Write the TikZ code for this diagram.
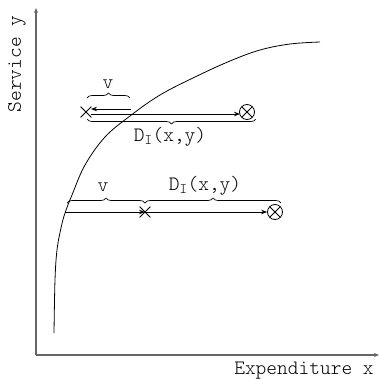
\documentclass[tikz,border=0pt]{standalone}
\usepackage{fontspec}
\setmonofont{Latin Modern Mono Light}
\usetikzlibrary{arrows.meta,decorations.pathreplacing,shapes.misc}
\begin{document}
\begin{tikzpicture}[x=1bp,y=-1bp,
  axis/.style={draw=black!60,line width=1.1bp,-{Stealth[length=5bp,width=4bp]}},
  arr/.style={draw=black,line width=0.8bp,-{Stealth[length=6bp,width=4.5bp]}},
  lbl/.style={font=\ttfamily\fontsize{20.5}{20.5}\selectfont,inner sep=0pt},
  brc/.style={draw=black,line width=0.7bp,decorate,decoration={brace,amplitude=5bp}},
  xmark/.style={cross out,draw=black,line width=0.8bp,minimum size=10bp,inner sep=0pt},
  omark/.style={circle,draw=black,line width=0.8bp,minimum size=15bp,inner sep=0pt,
    path picture={\draw[line width=0.8bp] (path picture bounding box.south west) -- (path picture bounding box.north east)
      (path picture bounding box.north west) -- (path picture bounding box.south east);}}]
\useasboundingbox (0,0) rectangle (380,379);
% axes
\coordinate (org) at (36,355);
\coordinate (ytop) at (36,8);
\coordinate (xend) at (379,355);
\draw[axis] (org) -- (ytop);
\draw[axis] (org) -- (xend);
\node[lbl,rotate=90] (ylab) at (17,64) {Service y};
\node[lbl,anchor=base] (xlab) at (304,374) {Expenditure x};
% curve
\draw[line width=0.8bp] plot[smooth,tension=0.6] coordinates {(54,333) (55,280) (57,250) (61,228) (65,213) (72,195) (85,165) (105,137) (130,116) (160,95) (195,77) (230,61) (260,50) (290,44) (320,42)};
% top row
\node[xmark] (x1) at (86,112) {};
\node[omark] (o1) at (247,112) {};
\coordinate (c1) at (131,109);
\coordinate (x1a) at (91,109);
\coordinate (x1b) at (91,114);
\coordinate (o1b) at (240,114);
\draw[arr] (c1) -- (x1a);
\draw[arr] (x1b) -- (o1b);
\coordinate (b1a) at (87,98);
\coordinate (b1b) at (130,98);
\draw[brc] (b1a) -- (b1b);
\node[lbl] (v1) at (108,84) {v};
\coordinate (b2a) at (256,119);
\coordinate (b2b) at (87,119);
\draw[brc] (b2a) -- (b2b);
\node[lbl] (d1) at (170,137) {D\textsubscript{I}(x,y)};
% bottom row
\coordinate (c2) at (65,212);
\node[xmark] (x2) at (145,212) {};
\node[omark] (o2) at (275,212) {};
\draw[arr] (c2) -- (x2.center);
\draw[arr] (x2.center) -- (o2.west);
\coordinate (b3a) at (67,203);
\coordinate (b3b) at (145,203);
\coordinate (b3c) at (281,203);
\draw[brc] (b3a) -- (b3b);
\draw[brc] (b3b) -- (b3c);
\node[lbl] (v2) at (103,187) {v};
\node[lbl] (d2) at (205,186) {D\textsubscript{I}(x,y)};
\end{tikzpicture}
\end{document}
